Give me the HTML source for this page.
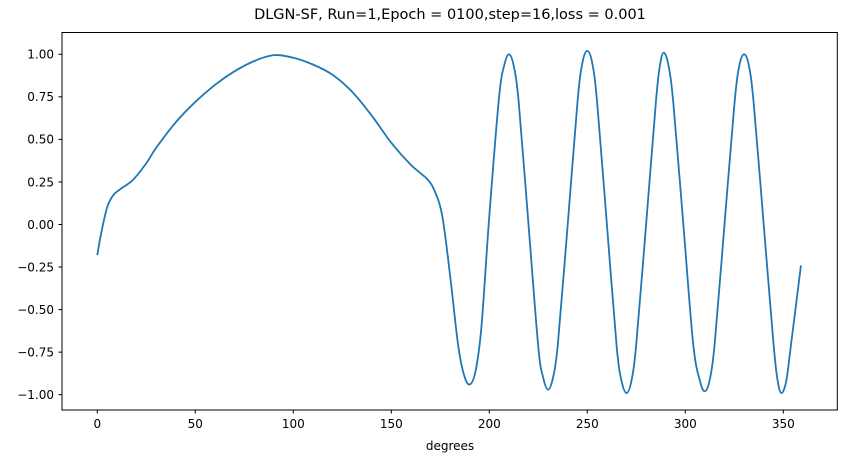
<!DOCTYPE html>
<html><head><meta charset="utf-8"><style>
body{margin:0;background:#fff}
svg text{font-family:"DejaVu Sans","Liberation Sans",sans-serif;fill:#000}
</style></head><body>
<svg width="847" height="463">
<rect x="0" y="0" width="847" height="463" fill="#fff"/>
<text x="450" y="19" font-size="14.5" text-anchor="middle">DLGN-SF, Run=1,Epoch = 0100,step=16,loss = 0.001</text>
<g id="xt"></g>
<g id="yt"></g>
<path id="line" fill="none" stroke="#1f77b4" stroke-width="1.8"/>
<rect x="62" y="32.5" width="775.3" height="377.5" fill="none" stroke="#000" stroke-width="1"/>
<text x="450" y="450" font-size="12" text-anchor="middle">degrees</text>
</svg>
<script>
const xTicks=[0,50,100,150,200,250,300,350];
const yTicks=[-1,-0.75,-0.5,-0.25,0,0.25,0.5,0.75,1];
const yLabels=["−1.00","−0.75","−0.50","−0.25","0.00","0.25","0.50","0.75","1.00"];
const degs=[0,2,5,8,12,18,25,30,40,50,60,70,80,90,100,110,120,130,140,150,160,168,172,176,180,184,187,190,193,196,200,205,207.5,210,212.5,215,220,225,227.5,230,232.5,235,240,245,247.5,250,252.5,255,260,265,267.5,270,272.5,275,280,285,287,289,291.5,294,299,304,307.5,310,312.5,315,320,325,327.5,330,332.5,335,340,345,347,349,351.5,354,359];
const vals=[-0.18,-0.05,0.10,0.17,0.21,0.26,0.36,0.45,0.60,0.72,0.82,0.90,0.96,0.995,0.98,0.94,0.88,0.78,0.64,0.48,0.35,0.27,0.20,0.05,-0.3,-0.7,-0.88,-0.94,-0.86,-0.6,0.05,0.75,0.93,1.0,0.93,0.72,0.0,-0.72,-0.9,-0.97,-0.9,-0.7,0.0,0.72,0.95,1.02,0.95,0.72,0.0,-0.72,-0.92,-0.99,-0.92,-0.7,0.0,0.72,0.93,1.01,0.93,0.7,0.0,-0.7,-0.92,-0.98,-0.91,-0.7,0.0,0.7,0.93,1.0,0.93,0.7,0.0,-0.7,-0.91,-0.99,-0.92,-0.7,-0.24];
const X=d=>97.3+d*(783.3-97.3)/350;
const Y=v=>224.5-v*170.2;
const ns="http://www.w3.org/2000/svg";
const xt=document.getElementById('xt'),yt=document.getElementById('yt');
xTicks.forEach(t=>{
 const l=document.createElementNS(ns,'line');
 
 
 l.setAttribute('x1',X(t));l.setAttribute('x2',X(t));l.setAttribute('y1',410);l.setAttribute('y2',413.5);l.setAttribute('stroke','#000');
 xt.appendChild(l);
 const s=document.createElementNS(ns,'text');
 
 
 s.setAttribute('x',X(t));s.setAttribute('y',428);s.setAttribute('font-size','12');s.setAttribute('text-anchor','middle');
 s.textContent=t;xt.appendChild(s);
});
yTicks.forEach((t,i)=>{
 const l=document.createElementNS(ns,'line');
 
 
 l.setAttribute('x1',58.5);l.setAttribute('x2',62);l.setAttribute('y1',Y(t));l.setAttribute('y2',Y(t));l.setAttribute('stroke','#000');
 yt.appendChild(l);
 const s=document.createElementNS(ns,'text');
 
 
 s.setAttribute('x',54);s.setAttribute('y',Y(t)+4.3);s.setAttribute('font-size','12');s.setAttribute('text-anchor','end');
 s.textContent=yLabels[i];yt.appendChild(s);
});
const P=degs.map((d,i)=>[X(d),Y(vals[i])]);
let d='M'+P[0][0]+','+P[0][1];
for(let i=0;i<P.length-1;i++){
 const p0=P[Math.max(i-1,0)],p1=P[i],p2=P[i+1],p3=P[Math.min(i+2,P.length-1)];
 const c1=[p1[0]+(p2[0]-p0[0])/6,p1[1]+(p2[1]-p0[1])/6];
 const c2=[p2[0]-(p3[0]-p1[0])/6,p2[1]-(p3[1]-p1[1])/6];
 d+=' C'+c1+' '+c2+' '+p2;
}
document.getElementById('line').setAttribute('d',d);
</script>
</body></html>
